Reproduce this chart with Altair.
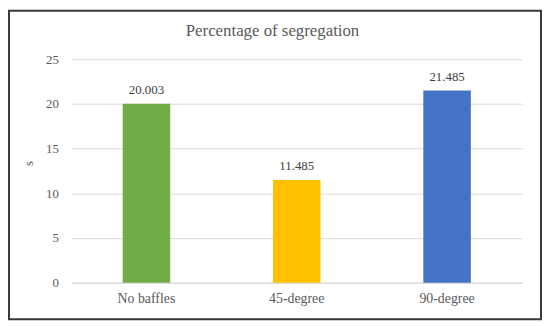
import altair as alt
import pandas as pd

categories = ["No baffles", "45-degree", "90-degree"]
values = [20.003, 11.485, 21.485]
colors = ["#70AD47", "#FFC000", "#4472C4"]
labels = ["20.003", "11.485", "21.485"]
y_ticks = [0, 5, 10, 15, 20, 25]
title_text = ["Percentage of segregation"]

df = pd.DataFrame({"cat": categories, "val": values, "color": colors, "label": labels})

FONT = "Liberation Serif"
TXT = "#595959"

x_enc = alt.X("cat:N", sort=categories, title=None,
              scale=alt.Scale(paddingInner=0.684, paddingOuter=0.342),
              axis=alt.Axis(labelAngle=0, labelFont=FONT, labelFontSize=14, labelColor=TXT,
                            ticks=False, domainColor="#D9D9D9", domainWidth=1, labelPadding=9))
y_enc = alt.Y("val:Q", title="s",
              scale=alt.Scale(domain=[0, 25], nice=False),
              axis=alt.Axis(values=y_ticks, labelFont=FONT, labelFontSize=13, labelColor=TXT,
                            ticks=False, domain=False, gridColor="#D9D9D9", labelPadding=13,
                            titleFont=FONT, titleFontSize=13, titleColor=TXT, titleFontWeight="normal",
                            titleX=-36, titleY=105))

bars = alt.Chart(df).mark_bar().encode(
    x=x_enc, y=y_enc,
    color=alt.Color("color:N", scale=None),
)

text = alt.Chart(df).mark_text(font=FONT, fontSize=13, color="#404040", dy=-10, baseline="alphabetic").encode(
    x=alt.X("cat:N", sort=categories),
    y=alt.Y("val:Q"),
    text="label:N",
)

title = alt.Chart(pd.DataFrame({"t": title_text})).mark_text(
    font=FONT, fontSize=17, color=TXT, baseline="alphabetic", align="center"
).encode(x=alt.value(203.5), y=alt.value(-23), text="t:N")

border = alt.Chart(pd.DataFrame({"a": [0]})).mark_rect(
    fill=None, stroke="#3a3a3a", strokeWidth=2
).encode(
    x=alt.value(-63), x2=alt.value(475), y=alt.value(-49), y2=alt.value(263)
)

chart = alt.layer(bars, text, title, border).properties(
    width=456, height=226,
    autosize=alt.AutoSizeParams(type="none"),
    padding={"left": 64, "top": 50, "right": 20, "bottom": 40},
).configure_view(stroke=None)

chart.save("out.html", embed_options={"renderer": "svg", "actions": False})
